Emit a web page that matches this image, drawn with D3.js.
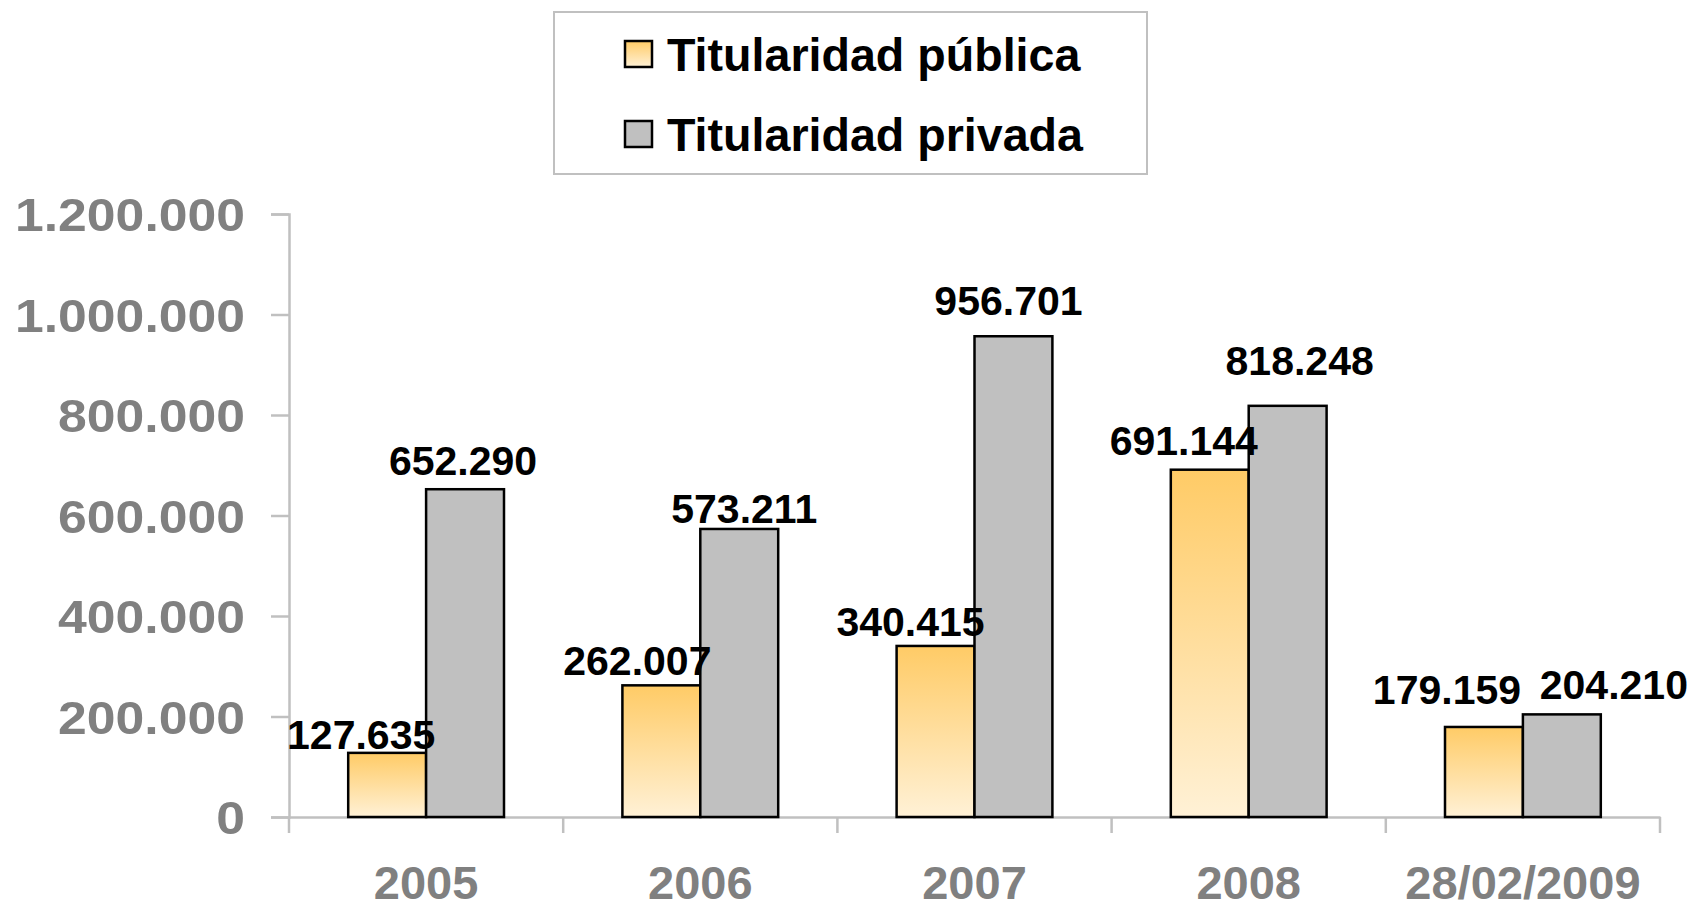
<!DOCTYPE html>
<html><head><meta charset="utf-8">
<script src="https://cdn.jsdelivr.net/npm/d3@7"></script>
<style>html,body{margin:0;padding:0;background:#fff;overflow:hidden}</style>
</head><body>
<svg id="chart" width="1697" height="904"></svg>
<script>
// ---- data ----
const categories = ["2005", "2006", "2007", "2008", "28/02/2009"];
const seriesNames = ["Titularidad pública", "Titularidad privada"];
const publica = [127635, 262007, 340415, 691144, 179159];
const privada = [652290, 573211, 956701, 818248, 204210];
const yTicks = [0, 200000, 400000, 600000, 800000, 1000000, 1200000];

// ---- layout (label nudges) ----
const labelDx = [[-26, -2], [-24, 5], [-25, -5], [-26, 12], [-37, 52]];
const labelDy = [[4, 14], [10, 6], [10, 21], [15, 31], [23, 15]];

(function () {
const svg = d3.select("#chart");
const fontFam = "'Liberation Sans', Arial, sans-serif";
const mLeft = 289, mRight = 1660, mTop = 214, mBottom = 817;

const loc = d3.formatLocale({decimal: ",", thousands: ".", grouping: [3], currency: ["", ""]});
const fmt = loc.format(",");

const x = d3.scaleBand().domain(categories).range([mLeft, mRight]).paddingInner(0).paddingOuter(0);
const x1 = d3.scaleBand().domain(seriesNames).range([0, x.bandwidth()]).paddingInner(0).paddingOuter(0.76);
const y = d3.scaleLinear().domain([0, 1200000]).range([mBottom, mTop]);

const defs = svg.append("defs");
const grad = defs.append("linearGradient").attr("id", "pubGrad")
  .attr("x1", 0).attr("y1", 0).attr("x2", 0).attr("y2", 1);
grad.append("stop").attr("offset", "0%").attr("stop-color", "#FFCB66");
grad.append("stop").attr("offset", "100%").attr("stop-color", "#FFF1D6");

const fills = ["url(#pubGrad)", "#C0C0C0"];
const axisColor = "#C0C0C0";

// y axis
const yAxis = svg.append("g").attr("transform", `translate(${mLeft},0)`)
  .call(d3.axisLeft(y).tickValues(yTicks).tickSize(18).tickPadding(26).tickFormat(fmt));
yAxis.select(".domain").attr("stroke", axisColor).attr("stroke-width", 2.5);
yAxis.selectAll(".tick line").attr("stroke", axisColor).attr("stroke-width", 2.5);
yAxis.selectAll(".tick text").attr("fill", "#808080").attr("font-family", fontFam)
  .attr("font-weight", "bold").attr("font-size", 47).attr("dy", "0.36em")
  .each(function () {
    const w = this.getComputedTextLength();
    d3.select(this).attr("textLength", w * 1.1).attr("lengthAdjust", "spacingAndGlyphs");
  });

// x axis
const xAxis = svg.append("g").attr("transform", `translate(0,${mBottom})`)
  .call(d3.axisBottom(x).tickSize(0).tickPadding(0));
xAxis.select(".domain").attr("stroke", axisColor).attr("stroke-width", 2.5);
xAxis.selectAll(".tick text").attr("fill", "#808080").attr("font-family", fontFam)
  .attr("font-weight", "bold").attr("font-size", 47).attr("y", 82).attr("dy", 0);
const bounds = categories.map(c => x(c)).concat([x.range()[1]]);
svg.append("g").selectAll("line").data(bounds).join("line")
  .attr("x1", d => d).attr("x2", d => d).attr("y1", mBottom).attr("y2", mBottom + 16)
  .attr("stroke", axisColor).attr("stroke-width", 2.5);

// bars
const rows = categories.map((c, i) => ({c, i, vals: [publica[i], privada[i]]}));
const groups = svg.append("g").selectAll("g").data(rows).join("g")
  .attr("transform", d => `translate(${x(d.c)},0)`);
groups.selectAll("rect").data(d => d.vals.map((v, s) => ({v, s}))).join("rect")
  .attr("x", d => x1(seriesNames[d.s]))
  .attr("width", x1.bandwidth())
  .attr("y", d => y(d.v))
  .attr("height", d => mBottom - y(d.v))
  .attr("fill", d => fills[d.s])
  .attr("stroke", "#000").attr("stroke-width", 2.5);

// labels
groups.selectAll("text.lbl").data(d => d.vals.map((v, s) => ({v, s, i: d.i}))).join("text")
  .attr("class", "lbl")
  .attr("x", d => x1(seriesNames[d.s]) + x1.bandwidth() / 2 + labelDx[d.i][d.s])
  .attr("y", d => y(d.v) - labelDy[d.i][d.s])
  .attr("text-anchor", "middle")
  .attr("font-family", fontFam).attr("font-weight", "bold").attr("font-size", 41)
  .attr("fill", "#000")
  .text(d => fmt(d.v));

// legend
const lg = svg.append("g");
lg.append("rect").attr("x", 554).attr("y", 12).attr("width", 593).attr("height", 162)
  .attr("fill", "#fff").attr("stroke", axisColor).attr("stroke-width", 2);
const items = lg.selectAll("g.item").data(seriesNames).join("g").attr("class", "item")
  .attr("transform", (d, i) => `translate(0,${i * 80})`);
items.append("rect").attr("x", 625).attr("y", 41).attr("width", 27).attr("height", 26)
  .attr("fill", (d, i) => fills[i]).attr("stroke", "#000").attr("stroke-width", 2.5);
items.append("text").attr("x", 667).attr("y", 71)
  .attr("font-family", fontFam).attr("font-weight", "bold").attr("font-size", 46.6)
  .attr("fill", "#000").text(d => d);
})();
</script>
</body></html>
